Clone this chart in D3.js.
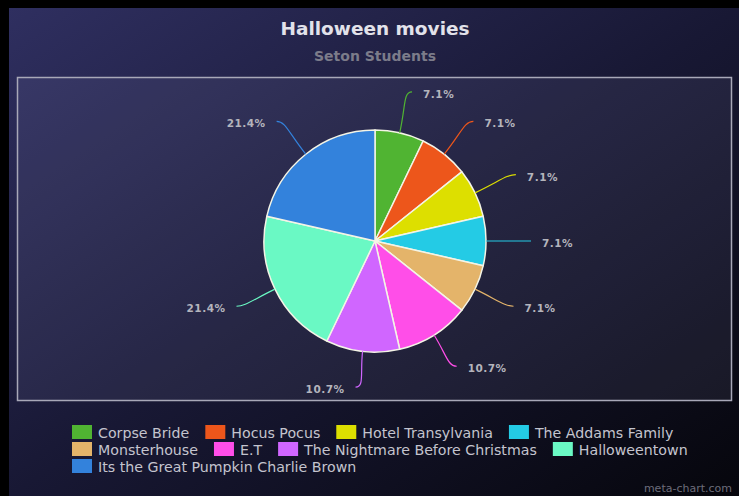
<!DOCTYPE html>
<html>
<head>
<meta charset="utf-8">
<script src="https://cdn.jsdelivr.net/npm/d3@7"></script>
<style>
    html, body { margin: 0; padding: 0; background: #000; }
    svg { display: block; }
</style>
</head>
<body>
<div id="chart"></div>
<script>
// datos del gráfico
const peliculas = ['Corpse Bride', 'Hocus Pocus', 'Hotel Transylvania', 'The Addams Family',
    'Monsterhouse', 'E.T', 'The Nightmare Before Christmas', 'Halloweentown',
    'Its the Great Pumpkin Charlie Brown'];
const votos = [2, 2, 2, 2, 2, 3, 3, 6, 6];
const colores = ['#50b432', '#ed561b', '#dddf00', '#24cbe5', '#e4b46a', '#ff4ee8', '#d066ff', '#6af9c4', '#3382dc'];

const width = 739, height = 496;
const svg = d3.select('#chart').append('svg')
    .attr('width', width)
    .attr('height', height);

// fondo con degradado
const defs = svg.append('defs');
const grad = defs.append('linearGradient')
    .attr('id', 'bg')
    .attr('x1', '0%').attr('y1', '0%')
    .attr('x2', '100%').attr('y2', '100%');
grad.append('stop').attr('offset', '0%').attr('stop-color', '#2f2f60');
grad.append('stop').attr('offset', '50%').attr('stop-color', '#181834');
grad.append('stop').attr('offset', '100%').attr('stop-color', '#06060c');

svg.append('rect')
    .attr('x', 9).attr('y', 8)
    .attr('width', width - 9).attr('height', height - 8)
    .attr('fill', 'url(#bg)');

// area del grafico
svg.append('rect')
    .attr('x', 17.5).attr('y', 77.5)
    .attr('width', 714).attr('height', 323)
    .attr('fill', 'rgba(200,200,255,0.08)')
    .attr('stroke', '#a8a8b8')
    .attr('stroke-width', 1.5);

// titulos
svg.append('text')
    .attr('x', 375).attr('y', 34.5)
    .attr('text-anchor', 'middle')
    .attr('font-family', 'DejaVu Sans')
    .attr('font-weight', 'bold')
    .attr('font-size', 18.5)
    .attr('fill', '#e2e2ea')
    .text('Halloween movies');

svg.append('text')
    .attr('x', 375).attr('y', 61)
    .attr('text-anchor', 'middle')
    .attr('font-family', 'DejaVu Sans')
    .attr('font-weight', 'bold')
    .attr('font-size', 14)
    .attr('fill', '#7c7c8a')
    .text('Seton Students');

// pastel
const cx = 375, cy = 241, r = 111;
const total = d3.sum(votos);
const datos = peliculas.map((p, i) => ({ nombre: p, valor: votos[i], color: colores[i] }));
const pie = d3.pie().value(d => d.valor).sort(null);
const arc = d3.arc().innerRadius(0).outerRadius(r);
const arcs = pie(datos);

const g = svg.append('g').attr('transform', `translate(${cx},${cy})`);

g.selectAll('path.slice')
    .data(arcs)
    .enter()
    .append('path')
    .attr('class', 'slice')
    .attr('d', arc)
    .attr('fill', d => d.data.color)
    .attr('stroke', '#f4f4e6')
    .attr('stroke-width', 1.5)
    .attr('stroke-linejoin', 'round');

function punto(ang, rad) {
    return [Math.sin(ang) * rad, -Math.cos(ang) * rad];
}

// conectores y etiquetas
arcs.forEach(d => {
    const ang = (d.startAngle + d.endAngle) / 2;
    const dir = Math.sin(ang) >= 0 ? 1 : -1;
    // las etiquetas de abajo quedan un poco mas cerca
    const dist = r + 42 + 6 * Math.min(0, Math.cos(ang));
    const p0 = punto(ang, r);
    const p1 = punto(ang, dist - 14);
    const fin = punto(ang, dist);
    const path = d3.path();
    path.moveTo(p0[0], p0[1]);
    path.bezierCurveTo(p1[0], p1[1], fin[0] - dir * 6, fin[1], fin[0] + dir * 3, fin[1]);
    g.append('path')
        .attr('d', path.toString())
        .attr('fill', 'none')
        .attr('stroke', d.data.color)
        .attr('stroke-width', 1.2);

    g.append('text')
        .attr('x', fin[0] + dir * 14)
        .attr('y', fin[1] + 3)
        .attr('text-anchor', dir > 0 ? 'start' : 'end')
        .attr('dominant-baseline', 'middle')
        .attr('font-family', 'DejaVu Sans')
        .attr('font-weight', 'bold')
        .attr('font-size', 10.5)
        .attr('letter-spacing', 0.5)
        .attr('fill', '#b4b4bc')
        .text(d3.format('.1%')(d.data.valor / total));
});

// leyenda
const leyenda = svg.append('g');
const x0 = 72, xMax = 700;
let lx = x0, ly = 425;
datos.forEach(d => {
    const item = leyenda.append('g');
    const t = item.append('text')
        .attr('x', 26).attr('y', 12.5)
        .attr('font-family', 'DejaVu Sans')
        .attr('font-size', 14.2)
        .attr('fill', '#c4c4ce')
        .text(d.nombre);
    item.append('rect')
        .attr('width', 20).attr('height', 14)
        .attr('fill', d.color);
    const w = 26 + t.node().getComputedTextLength();
    if (lx + w > xMax && lx > x0) {
        lx = x0;
        ly += 17;
    }
    item.attr('transform', `translate(${lx},${ly})`);
    lx += w + 16;
});

svg.append('text')
    .attr('x', 732).attr('y', 492)
    .attr('text-anchor', 'end')
    .attr('font-family', 'DejaVu Sans')
    .attr('font-size', 11)
    .attr('fill', '#6c6c7a')
    .text('meta-chart.com');
</script>
</body>
</html>
